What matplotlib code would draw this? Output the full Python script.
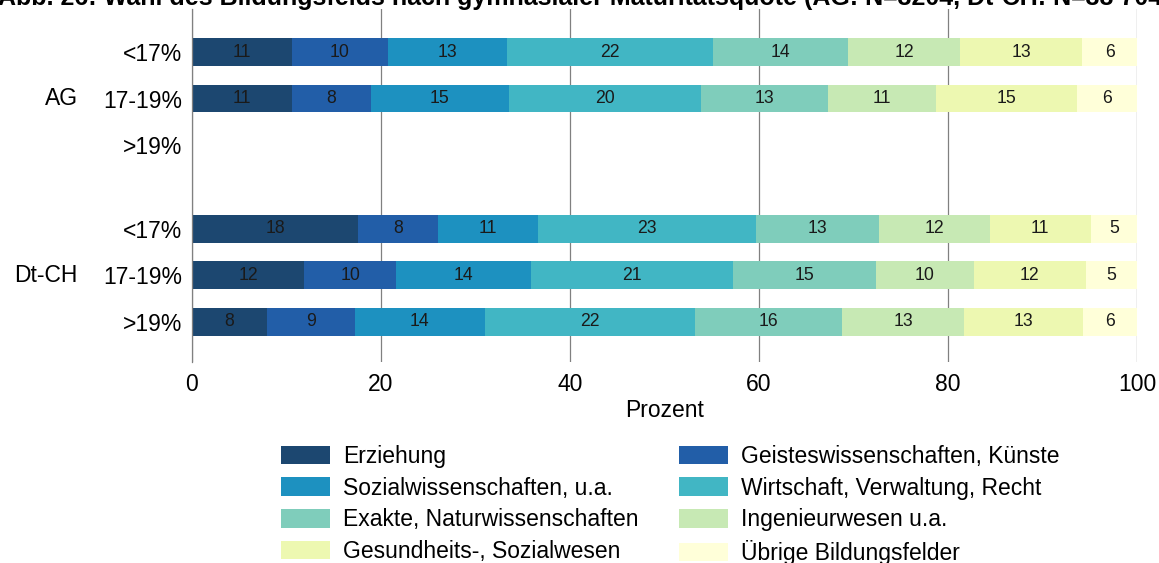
import matplotlib.pyplot as plt
import numpy as np

plt.rcParams['font.family'] = ['Liberation Sans', 'DejaVu Sans']

title = ('Abb. 26: Wahl des Bildungsfelds nach gymnasialer Maturitätsquote '
         '(AG: N=3204, Dt-CH: N=38 704)')

categories = [
    'Erziehung', 'Geisteswissenschaften, Künste',
    'Sozialwissenschaften, u.a.', 'Wirtschaft, Verwaltung, Recht',
    'Exakte, Naturwissenschaften', 'Ingenieurwesen u.a.',
    'Gesundheits-, Sozialwesen', 'Übrige Bildungsfelder',
]
colors = ['#1c4770', '#225ea8', '#1d91c0', '#41b6c4',
          '#7fcdbb', '#c7e9b4', '#edf8b1', '#ffffd9']

groups = ['AG', 'Dt-CH']
row_labels = ['<17%', '17-19%', '>19%', '<17%', '17-19%', '>19%']

# Anteile in Prozent je Zeile (Reihenfolge wie categories)
ag_lt17 = [10.6, 10.1, 12.6, 21.8, 14.3, 11.9, 12.9, 5.8]
ag_17_19 = [10.6, 8.3, 14.6, 20.4, 13.4, 11.4, 14.9, 6.4]
ag_gt19 = [np.nan] * 8  # keine Daten
ch_lt17 = [17.6, 8.4, 10.6, 23.1, 13.0, 11.7, 10.7, 4.9]
ch_17_19 = [11.9, 9.7, 14.3, 21.4, 15.1, 10.3, 11.9, 5.4]
ch_gt19 = [7.9, 9.3, 13.8, 22.2, 15.6, 12.9, 12.6, 5.7]

shares = np.array([ag_lt17, ag_17_19, ag_gt19, ch_lt17, ch_17_19, ch_gt19])
ypos = np.array([0, 1, 2, 3.8, 4.8, 5.8])

fig = plt.figure(figsize=(11.59, 5.63), dpi=100)
ax = fig.add_axes([192 / 1159, 1 - 362 / 563, 945 / 1159, 353 / 563])

lefts = np.zeros(len(ypos))
for j, cat in enumerate(categories):
    vals = np.nan_to_num(shares[:, j])
    bars = ax.barh(ypos, vals, left=lefts, height=0.6, color=colors[j],
                   label=cat, zorder=2)
    labs = ['' if np.isnan(v) else f'{v:.0f}' for v in shares[:, j]]
    ax.bar_label(bars, labels=labs, label_type='center', fontsize=12.7,
                 color='#1a1a1a')
    lefts += vals

ax.set_xlim(0, 100)
ax.set_ylim(6.667, -0.925)
ax.set_xticks([0, 20, 40, 60, 80, 100])
ax.set_yticks(ypos)
ax.set_yticklabels(row_labels)
ax.tick_params(axis='both', length=0, labelsize=16.5)
ax.tick_params(axis='y', pad=7)
ax.tick_params(axis='x', pad=8)
ax.set_xlabel('Prozent', fontsize=16.5, labelpad=2)

ax.grid(axis='x', color='#808080', linewidth=0.9)
ax.set_axisbelow(True)
for s in ['top', 'right', 'bottom']:
    ax.spines[s].set_visible(False)
ax.spines['left'].set_color('#808080')
ax.spines['left'].set_linewidth(0.9)

# Gruppenbeschriftungen links
tr = ax.get_yaxis_transform()
gx = (78 - 192) / 945
ax.text(gx, 1, groups[0], transform=tr, ha='right', va='center', fontsize=16.5)
ax.text(gx, 4.8, groups[1], transform=tr, ha='right', va='center', fontsize=16.5)

# Titel oben angeschnitten wie in der Vorlage
fig.text(-0.002, 1 - 5 / 563, title, fontsize=18, fontweight='bold',
         ha='left', va='baseline')

handles, labels = ax.get_legend_handles_labels()
order = [0, 2, 4, 6, 1, 3, 5, 7]
fig.legend([handles[i] for i in order], [labels[i] for i in order],
           loc='upper left', bbox_to_anchor=(281 / 1159, 1 - 445 / 563),
           ncol=2, frameon=False, fontsize=16.5, borderpad=0,
           borderaxespad=0, handlelength=2.14, handleheight=0.87,
           handletextpad=0.57, columnspacing=1.75, labelspacing=0.38)

fig.savefig('out.png', dpi=100)
